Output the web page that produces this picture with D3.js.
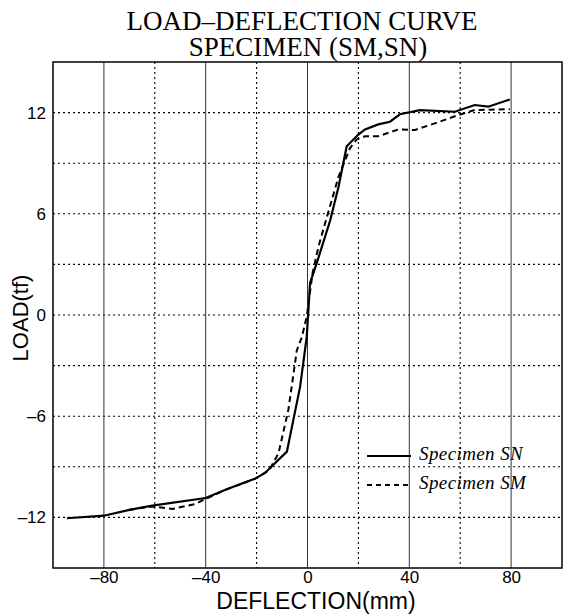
<!DOCTYPE html>
<html>
<head>
<meta charset="utf-8">
<script src="https://cdn.jsdelivr.net/npm/d3@7"></script>
<style>
  body { margin: 0; background: #fff; }
  svg { display: block; }
</style>
</head>
<body>
<div id="chart"></div>
<script>
// Load-deflection data
var snX = [-94.5, -80, -70, -61, -40, -32, -20.5, -16.6, -8.1, -2.9, -0.3, 0.6, 1, 3.6, 8.9, 12.2, 15.4, 20, 22.6, 27.8, 32.4, 36.3, 44.2, 57.9, 65.7, 71, 79.5];
var snY = [-12.05, -11.9, -11.55, -11.3, -10.85, -10.35, -9.7, -9.35, -8.1, -4.25, -1.3, 0.9, 1.9, 3.06, 5.6, 7.6, 10.0, 10.7, 11.0, 11.3, 11.46, 11.9, 12.15, 12.05, 12.45, 12.35, 12.78];

var smX = [-70, -61, -53, -44, -40, -32, -20.5, -15, -11.4, -7.5, -4.2, -2.2, -0.3, 2, 4.3, 7.6, 12.2, 16.7, 19.3, 22.6, 27.8, 35.7, 42.2, 50, 59.2, 65.7, 79.5];
var smY = [-11.55, -11.35, -11.5, -11.2, -10.9, -10.35, -9.7, -9.2, -8.2, -5.6, -2.1, -1.3, -0.1, 2.5, 4.05, 5.8, 8.2, 9.9, 10.4, 10.6, 10.6, 11.0, 10.97, 11.36, 11.85, 12.15, 12.2];

var xTicks = [-80, -40, 0, 40, 80];
var xTickLabels = ["\u201380", "\u201340", "0", "40", "80"];
var xMinor = [-60, -20, 20, 60];
var yTicks = [-12, -6, 0, 6, 12];
var yTickLabels = ["\u201312", "\u20136", "0", "6", "12"];
var yGrid = [-12, -9, -6, -3, 0, 3, 6, 9, 12];

var seriesNames = ["Specimen SN", "Specimen SM"];

var width = 563, height = 615;
var margin = { top: 62, right: 1, bottom: 47, left: 53 };

var svg = d3.select("#chart").append("svg")
    .attr("width", width)
    .attr("height", height);

var xScale = d3.scaleLinear().domain([-100, 100]).range([margin.left, width - margin.right]);
var yScale = d3.scaleLinear().domain([-15, 15]).range([height - margin.bottom, margin.top]);

// grid
svg.append("g").selectAll("line")
    .data(yGrid)
    .enter().append("line")
    .attr("x1", xScale(-100)).attr("x2", xScale(100))
    .attr("y1", d => yScale(d)).attr("y2", d => yScale(d))
    .attr("stroke", "#000").attr("stroke-width", 1.1)
    .attr("stroke-dasharray", "2,3");

svg.append("g").selectAll("line")
    .data(xMinor)
    .enter().append("line")
    .attr("x1", d => xScale(d)).attr("x2", d => xScale(d))
    .attr("y1", yScale(15)).attr("y2", yScale(-15))
    .attr("stroke", "#000").attr("stroke-width", 1.1)
    .attr("stroke-dasharray", "2,3");

svg.append("g").selectAll("line")
    .data(xTicks)
    .enter().append("line")
    .attr("x1", d => xScale(d)).attr("x2", d => xScale(d))
    .attr("y1", yScale(15)).attr("y2", yScale(-15))
    .attr("stroke", "#333").attr("stroke-width", 1);

// frame
svg.append("rect")
    .attr("x", xScale(-100)).attr("y", yScale(15))
    .attr("width", xScale(100) - xScale(-100))
    .attr("height", yScale(-15) - yScale(15))
    .attr("fill", "none").attr("stroke", "#000").attr("stroke-width", 1.5);

// axes
var xAxis = d3.axisBottom(xScale).tickValues(xTicks).tickSize(0).tickPadding(3)
    .tickFormat((d, i) => xTickLabels[i]);
var gx = svg.append("g")
    .attr("transform", "translate(0," + yScale(-15) + ")")
    .call(xAxis);
gx.select(".domain").remove();
gx.selectAll("text").attr("font-family", "Liberation Sans, Arial, sans-serif")
    .attr("font-size", 17).attr("fill", "#000");

var yAxis = d3.axisLeft(yScale).tickValues(yTicks).tickSize(0).tickPadding(7)
    .tickFormat((d, i) => yTickLabels[i]);
var gy = svg.append("g")
    .attr("transform", "translate(" + xScale(-100) + ",0)")
    .call(yAxis);
gy.select(".domain").remove();
gy.selectAll("text").attr("font-family", "Liberation Sans, Arial, sans-serif")
    .attr("font-size", 17).attr("fill", "#000");

// curves
var line = d3.line()
    .x(d => xScale(d[0]))
    .y(d => yScale(d[1]));

var snData = snX.map((x, i) => [x, snY[i]]);
var smData = smX.map((x, i) => [x, smY[i]]);

svg.append("path")
    .datum(smData)
    .attr("d", line)
    .attr("fill", "none").attr("stroke", "#000").attr("stroke-width", 2)
    .attr("stroke-dasharray", "6,4");

svg.append("path")
    .datum(snData)
    .attr("d", line)
    .attr("fill", "none").attr("stroke", "#000").attr("stroke-width", 2.2);

// legend
var legend = svg.append("g").attr("transform", "translate(367,456)");
seriesNames.forEach(function(name, i){
    legend.append("line")
        .attr("x1", 0).attr("x2", 44)
        .attr("y1", i * 29).attr("y2", i * 29)
        .attr("stroke", "#000").attr("stroke-width", 2)
        .attr("stroke-dasharray", i == 1 ? "5,4" : null);
    legend.append("text")
        .attr("x", 52).attr("y", i * 29 + 4)
        .attr("font-family", "Liberation Serif, Times New Roman, serif")
        .attr("font-style", "italic")
        .attr("font-size", 19)
        .attr("letter-spacing", 0.4)
        .text(name);
});

// titles
svg.append("text")
    .attr("x", 302).attr("y", 30)
    .attr("text-anchor", "middle")
    .attr("font-family", "Liberation Serif, Times New Roman, serif")
    .attr("font-size", 27)
    .text("LOAD\u2013DEFLECTION CURVE");
svg.append("text")
    .attr("x", 308).attr("y", 56)
    .attr("text-anchor", "middle")
    .attr("font-family", "Liberation Serif, Times New Roman, serif")
    .attr("font-size", 27)
    .text("SPECIMEN (SM,SN)");

svg.append("text")
    .attr("x", 316).attr("y", 609)
    .attr("text-anchor", "middle")
    .attr("font-family", "Liberation Sans, Arial, sans-serif")
    .attr("font-size", 23)
    .text("DEFLECTION(mm)");

svg.append("text")
    .attr("transform", "translate(28,318) rotate(-90)")
    .attr("text-anchor", "middle")
    .attr("font-family", "Liberation Sans, Arial, sans-serif")
    .attr("font-size", 22)
    .text("LOAD(tf)");
</script>
</body>
</html>
